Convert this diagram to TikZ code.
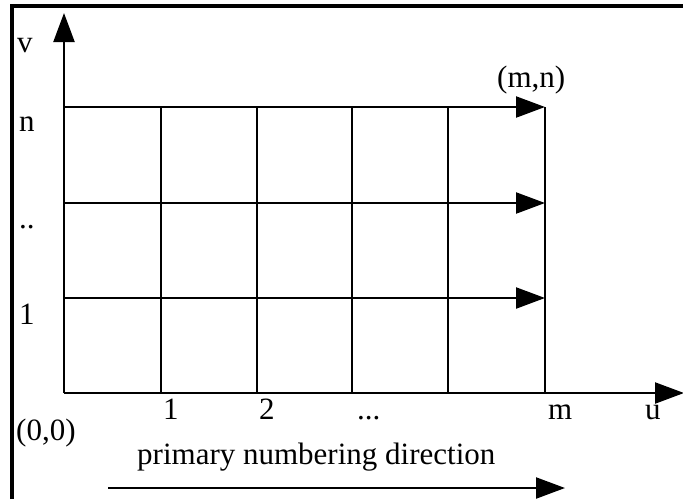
\documentclass[tikz,border=0pt]{standalone}
\usepackage{fontspec}
\setmainfont{Liberation Serif}
\usetikzlibrary{arrows.meta}
\begin{document}
\begin{tikzpicture}[x=1pt,y=-1pt,
  gridline/.style={line width=2.2pt},
  arr/.style={gridline,-{Triangle[length=29pt,width=21pt]}},
  frameline/.style={line width=3.6pt},
  lbl/.style={inner sep=0pt, anchor=base west, font=\fontsize{31}{36}\selectfont}]
\useasboundingbox (0,0) rectangle (683,499);
% frame (top and left)
\coordinate (fbl) at (12,499);
\coordinate (ftl) at (12,6);
\coordinate (ftr) at (683,6);
\draw[frameline] (fbl) -- (ftl) -- (ftr);
% grid coordinates
\foreach \c/\x in {0/64,1/161,2/257,3/352,4/448,5/545}{
  \coordinate (b\c) at (\x,393);
  \coordinate (t\c) at (\x,107);
}
\coordinate (r1a) at (64,298);  \coordinate (r1b) at (545,298);
\coordinate (r2a) at (64,203);  \coordinate (r2b) at (545,203);
\coordinate (vtip) at (64,13);
\coordinate (utip) at (684,393);
% vertical grid lines
\foreach \c in {1,2,3,4,5}{ \draw[gridline] (t\c) -- (b\c); }
% axes
\draw[arr] (b0) -- (vtip);
\draw[arr] (b0) -- (utip);
% row arrows
\draw[arr] (r1a) -- (r1b);
\draw[arr] (r2a) -- (r2b);
\draw[arr] (t0) -- (t5);
% primary direction arrow
\coordinate (pa) at (108,488);
\coordinate (pb) at (565,488);
\draw[arr] (pa) -- (pb);
% labels
\node[lbl] (lv) at (17,52) {v};
\node[lbl] (ln) at (19,131) {n};
\node[lbl] (ldots) at (19,228) {..};
\node[lbl] (lone) at (19,324) {1};
\node[lbl] (lorig) at (16,440) {(0,0)};
\node[lbl] (x1) at (163,419) {1};
\node[lbl] (x2) at (259,419) {2};
\node[lbl] (x3) at (357,419) {...};
\node[lbl] (xm) at (548,419) {m};
\node[lbl] (xu) at (645,419) {u};
\node[lbl] (lmn) at (497,87) {(m,n)};
\node[lbl] (lprim) at (137,464) {primary numbering direction};
\end{tikzpicture}
\end{document}
